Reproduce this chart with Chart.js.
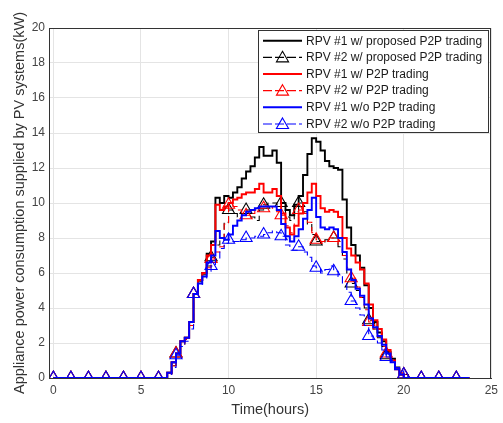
<!DOCTYPE html>
<html>
<head>
<meta charset="utf-8">
<script src="https://cdn.jsdelivr.net/npm/chart.js@4"></script>
<style>
  html, body { margin: 0; padding: 0; background: #fff; }
  #wrap { width: 503px; height: 423px; }
</style>
</head>
<body>
<div id="wrap"><canvas id="chart" width="503" height="423"></canvas></div>
<script>
// Time axis: 15-minute steps from 0 to 23.75 h
const hours = Array.from({ length: 96 }, (_, i) => i * 0.25);

const xTickValues = [0, 5, 10, 15, 20, 25];
const yTickValues = [0, 2, 4, 6, 8, 10, 12, 14, 16, 18, 20];

const seriesNames = [
    'RPV #1 w/ proposed P2P trading',
    'RPV #2 w/ proposed P2P trading',
    'RPV #1 w/ P2P trading',
    'RPV #2 w/ P2P trading',
    'RPV #1 w/o P2P trading',
    'RPV #2 w/o P2P trading'
];

// kW, one value per 15 minutes (0:00 ... 23:45)
const rpv1Proposed = [
    0, 0, 0, 0, 0, 0, 0, 0, 0, 0, 0, 0, 0, 0, 0, 0, 0, 0, 0, 0, 0, 0, 0, 0, 0, 0,
    0.3, 0.9, 1.4, 2.1, 2.3, 3.2, 4.8, 5.6, 6.0, 7.1,
    7.8, 10.3, 10.0, 10.4, 10.3, 10.6, 10.9, 11.4, 11.8, 12.1,
    12.6, 13.2, 12.7, 12.7, 13.0, 12.3, 10.0, 9.6, 9.3, 9.9,
    10.4, 11.6, 12.8, 13.7, 13.5, 13.0, 12.4, 12.1, 12.0, 11.9,
    10.2, 8.6, 7.6, 7.0, 6.3, 5.3, 4.0, 3.2, 2.6, 2.1,
    1.5, 1.1, 0.6, 0.2, 0,
    0, 0, 0, 0, 0, 0, 0, 0, 0, 0, 0, 0, 0, 0, 0
];
const rpv2Proposed = [
    0, 0, 0, 0, 0, 0, 0, 0, 0, 0, 0, 0, 0, 0, 0, 0, 0, 0, 0, 0, 0, 0, 0, 0, 0, 0,
    0.2, 0.7, 1.4, 1.9, 2.2, 3.0, 4.8, 5.5, 5.9, 6.4,
    6.9, 7.6, 8.0, 8.9, 9.6, 9.4, 9.2, 9.4, 9.6, 9.2,
    9.0, 9.6, 9.9, 10.0, 10.0, 9.9, 10.0, 9.2, 9.0, 9.5,
    10.0, 9.5, 8.8, 8.2, 7.8, 7.7, 7.9, 8.0, 8.0, 7.5,
    6.8, 6.0, 5.4, 5.0, 4.6, 4.0, 3.3, 2.8, 2.3, 1.8,
    1.3, 1.0, 0.6, 0.3, 0.2,
    0, 0, 0, 0, 0, 0, 0, 0, 0, 0, 0, 0, 0, 0, 0
];
const rpv1P2P = [
    0, 0, 0, 0, 0, 0, 0, 0, 0, 0, 0, 0, 0, 0, 0, 0, 0, 0, 0, 0, 0, 0, 0, 0, 0, 0,
    0.3, 0.9, 1.4, 2.1, 2.3, 3.2, 4.8, 5.6, 6.0, 7.0,
    7.6, 9.9, 9.6, 9.8, 10.0, 10.2, 10.3, 10.5, 10.6, 10.6,
    10.8, 11.1, 10.6, 10.6, 10.8, 10.4, 9.4, 8.6, 8.2, 8.7,
    9.4, 10.0, 10.6, 11.1, 10.4, 9.7, 9.5, 9.6, 9.5, 9.2,
    8.0, 7.4, 7.0, 6.6, 6.2, 5.4, 4.2, 3.3, 2.8, 2.2,
    1.6, 1.0, 0.5, 0.2, 0,
    0, 0, 0, 0, 0, 0, 0, 0, 0, 0, 0, 0, 0, 0, 0
];
const rpv2P2P = [
    0, 0, 0, 0, 0, 0, 0, 0, 0, 0, 0, 0, 0, 0, 0, 0, 0, 0, 0, 0, 0, 0, 0, 0, 0, 0,
    0.2, 0.7, 1.4, 1.9, 2.2, 3.0, 4.8, 5.4, 5.8, 6.3,
    6.8, 7.2, 7.5, 8.8, 9.9, 9.8, 9.6, 9.4, 9.3, 9.4,
    9.6, 9.7, 9.7, 9.8, 9.7, 9.5, 9.3, 8.7, 8.3, 8.8,
    9.6, 9.4, 8.9, 8.3, 7.9, 7.8, 7.9, 8.0, 8.0, 7.6,
    7.0, 6.3, 5.7, 5.2, 4.6, 3.9, 3.2, 2.8, 2.3, 1.8,
    1.4, 1.0, 0.6, 0.3, 0.2,
    0, 0, 0, 0, 0, 0, 0, 0, 0, 0, 0, 0, 0, 0, 0
];
const rpv1NoP2P = [
    0, 0, 0, 0, 0, 0, 0, 0, 0, 0, 0, 0, 0, 0, 0, 0, 0, 0, 0, 0, 0, 0, 0, 0, 0, 0,
    0.3, 0.9, 1.4, 2.1, 2.3, 3.2, 4.8, 5.4, 5.8, 6.6,
    7.0, 8.4, 8.0, 7.9, 8.2, 8.7, 9.0, 9.3, 9.5, 9.6,
    9.7, 9.8, 9.8, 9.8, 9.8, 9.6, 8.8, 8.1, 7.8, 8.1,
    8.5, 9.1, 9.6, 10.3, 9.2, 8.6, 8.5, 8.6, 8.5, 8.0,
    7.2, 6.2, 5.6, 5.1, 4.7, 4.2, 3.4, 2.9, 2.4, 1.9,
    1.4, 0.9, 0.5, 0.2, 0,
    0, 0, 0, 0, 0, 0, 0, 0, 0, 0, 0, 0, 0, 0, 0
];
const rpv2NoP2P = [
    0, 0, 0, 0, 0, 0, 0, 0, 0, 0, 0, 0, 0, 0, 0, 0, 0, 0, 0, 0, 0, 0, 0, 0, 0, 0,
    0.2, 0.6, 1.3, 1.8, 2.1, 2.8, 4.8, 5.3, 5.7, 6.1,
    6.4, 6.8, 7.4, 7.7, 7.9, 7.8, 7.8, 7.9, 8.0, 8.0,
    8.1, 8.1, 8.2, 8.3, 8.4, 8.3, 8.1, 7.6, 7.3, 7.3,
    7.5, 7.2, 6.9, 6.4, 6.3, 6.0, 6.2, 6.4, 6.1, 5.8,
    5.4, 4.9, 4.4, 4.0, 3.6, 3.0, 2.4, 2.2, 2.0, 1.6,
    1.2, 0.9, 0.6, 0.4, 0.2,
    0, 0, 0, 0, 0, 0, 0, 0, 0, 0, 0, 0, 0, 0, 0
];

const seriesValues = [rpv1Proposed, rpv2Proposed, rpv1P2P, rpv2P2P, rpv1NoP2P, rpv2NoP2P];
const seriesColors = ['#000000', '#000000', '#ff0000', '#ff0000', '#0000ff', '#0000ff'];

const FONT = '"Liberation Sans", Arial, Helvetica, sans-serif';
const MARKER_R = 7;

function buildDatasets() {
    return seriesValues.map((values, i) => {
        const dashed = i % 2 === 1;
        return {
            label: seriesNames[i],
            data: values.map((v, k) => ({ x: hours[k], y: v })),
            stepped: true,
            borderColor: seriesColors[i],
            borderWidth: dashed ? 1.1 : 1.9,
            borderDash: dashed ? [7, 4] : [],
            pointStyle: 'triangle',
            pointRadius: dashed ? (c => c.dataIndex % 4 === 0 ? MARKER_R : 0) : 0,
            pointBorderColor: seriesColors[i],
            pointBackgroundColor: 'rgba(0,0,0,0)',
            pointBorderWidth: 1.1,
            pointHoverRadius: 0,
            order: seriesValues.length - i
        };
    });
}

// Box around the axes + legend inside the plot
const boxAndLegend = {
    id: 'boxAndLegend',
    afterDatasetsDraw(chart) {
        const { ctx, chartArea: a } = chart;
        ctx.save();
        ctx.strokeStyle = '#333';
        ctx.lineWidth = 1;
        ctx.strokeRect(Math.round(a.left) + 0.5, Math.round(a.top) + 0.5,
            Math.round(a.right - a.left) - 1, Math.round(a.bottom - a.top));
        ctx.restore();
    },
    afterDraw(chart) {
        const ctx = chart.ctx;
        const box = { x: 258.5, y: 30.5, w: 230, h: 102 };
        const rowH = 16.65, firstRow = 40.7;
        const x0 = 263, x1 = 302, tx = 306;
        ctx.save();
        ctx.fillStyle = '#fff';
        ctx.fillRect(box.x, box.y, box.w, box.h);
        ctx.strokeStyle = '#333';
        ctx.lineWidth = 1;
        ctx.strokeRect(box.x, box.y, box.w, box.h);
        ctx.font = '12px ' + FONT;
        ctx.textBaseline = 'middle';
        ctx.textAlign = 'left';
        chart.data.datasets.forEach((ds, i) => {
            const y = firstRow + i * rowH;
            const dashed = i % 2 === 1;
            ctx.strokeStyle = ds.borderColor;
            ctx.lineWidth = ds.borderWidth;
            ctx.setLineDash(dashed ? [9, 3] : []);
            ctx.beginPath();
            ctx.moveTo(x0, y);
            ctx.lineTo(x1, y);
            ctx.stroke();
            ctx.setLineDash([]);
            if (dashed) {
                ctx.fillStyle = 'rgba(0,0,0,0)';
                ctx.strokeStyle = ds.borderColor;
                ctx.lineWidth = 1.1;
                Chart.helpers.drawPoint(ctx, { pointStyle: 'triangle', radius: MARKER_R, rotation: 0, borderWidth: 1.1 }, (x0 + x1) / 2, y + 1);
            }
            ctx.fillStyle = '#1a1a1a';
            ctx.fillText(ds.label, tx, y + 0.5);
        });
        ctx.restore();
    }
};

function setupChart() {
    const ctx = document.getElementById('chart').getContext('2d');
    return new Chart(ctx, {
        type: 'line',
        data: { datasets: buildDatasets() },
        options: {
            responsive: false,
            animation: false,
            devicePixelRatio: 1,
            layout: { padding: { left: 0, right: 10, top: 28, bottom: 0 } },
            plugins: {
                legend: { display: false },
                tooltip: { enabled: false }
            },
            scales: {
                x: {
                    type: 'linear',
                    min: -0.25,
                    max: 25,
                    afterBuildTicks: s => { s.ticks = xTickValues.map(v => ({ value: v })); },
                    afterFit: s => { s.height = 45; },
                    grid: { color: '#e4e4e4', drawTicks: false },
                    border: { color: '#333', width: 1 },
                    ticks: { color: '#444', font: { family: FONT, size: 12 }, padding: 5, maxRotation: 0 },
                    title: {
                        display: true,
                        text: 'Time(hours)',
                        color: '#333',
                        font: { family: FONT, size: 14.5 },
                        padding: { top: 0, bottom: 4 }
                    }
                },
                y: {
                    min: 0,
                    max: 20,
                    afterBuildTicks: s => { s.ticks = yTickValues.map(v => ({ value: v })); },
                    afterFit: s => { s.width = 49; },
                    grid: { color: '#e4e4e4', drawTicks: false },
                    border: { color: '#333', width: 1 },
                    ticks: { color: '#444', font: { family: FONT, size: 12 }, padding: 4 },
                    title: {
                        display: true,
                        text: 'Appliance power consumption supplied by PV systems(kW)',
                        color: '#333',
                        font: { family: FONT, size: 14.5 },
                        padding: { top: 11, bottom: 0 }
                    }
                }
            }
        },
        plugins: [boxAndLegend]
    });
}

setupChart();
</script>
</body>
</html>
